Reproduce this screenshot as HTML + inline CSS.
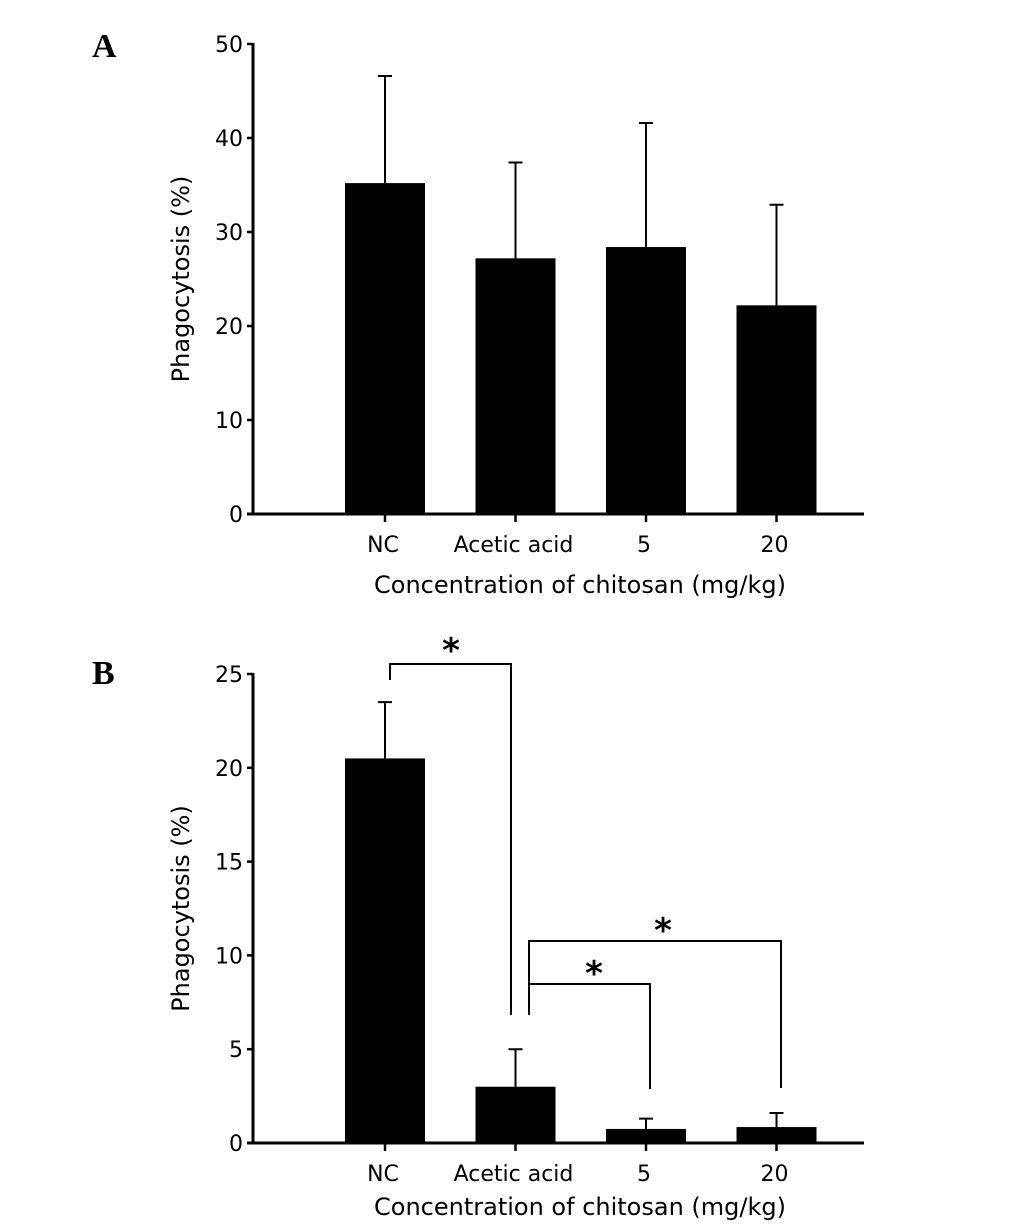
<!DOCTYPE html>
<html><head><meta charset="utf-8"><style>
body{margin:0;background:#fff;width:1033px;height:1229px;overflow:hidden}
svg{display:block}
text{font-family:"DejaVu Sans","Liberation Sans",sans-serif;fill:#000}
</style></head><body>
<svg id="chart" width="1033" height="1229" xmlns="http://www.w3.org/2000/svg">
<text x="92" y="57" style="font-family:'Liberation Serif',serif;font-weight:bold;font-size:34px">A</text>
<text x="92" y="684" style="font-family:'Liberation Serif',serif;font-weight:bold;font-size:34px">B</text>
</svg>
<script>
const categories = ["NC", "Acetic acid", "5", "20"];
const valuesA = [35.2, 27.2, 28.4, 22.2];
const errorsA = [46.6, 37.4, 41.6, 32.9];
const ticksA = [0, 10, 20, 30, 40, 50];
const valuesB = [20.5, 3.0, 0.75, 0.85];
const errorsB = [23.5, 5.0, 1.3, 1.6];
const ticksB = [0, 5, 10, 15, 20, 25];

const svg = document.getElementById('chart');
const NS = "http://www.w3.org/2000/svg";
function mk(tag, attrs, parent){
  const e = document.createElementNS(NS, tag);
  for (const k in attrs) e.setAttribute(k, attrs[k]);
  (parent||svg).appendChild(e);
  return e;
}
const xCenter = i => 385 + i * 130.5;

function panel(id, values, errors, ticks, y0, y1, maxV, titleY){
  const g = mk('g', {});
  
  
  const y = v => y0 - (v / maxV) * (y0 - y1);
  // y axis
  const ya = mk('line', {x1:253, y1:y1-1, x2:253, y2:y0, stroke:'#000', 'stroke-width':3}, g);
  
  
  ticks.forEach(t => {
    mk('line', {x1:247, y1:y(t), x2:253, y2:y(t), stroke:'#000', 'stroke-width':2.5}, g);
    const tl = mk('text', {x:243, y:y(t)+8, 'text-anchor':'end', 'font-size':22}, g);
    tl.textContent = t;
    
    
  });
  // x axis
  const xa = mk('line', {x1:247, y1:y0, x2:864, y2:y0, stroke:'#000', 'stroke-width':3}, g);
  
  
  categories.forEach((c, i) => {
    const cx = xCenter(i);
    mk('line', {x1:cx, y1:y0, x2:cx, y2:y0+8, stroke:'#000', 'stroke-width':2.5}, g);
    // error bar
    const eb = mk('path', {d:`M${cx} ${y(values[i])} V${y(errors[i])} M${cx-7} ${y(errors[i])} H${cx+7}`, stroke:'#000', 'stroke-width':2, fill:'none'}, g);
    
    
    const b = mk('rect', {x:cx-40, y:y(values[i]), width:80, height:y0-y(values[i]), fill:'#000'}, g);
    
    
    const lb = mk('text', {x:cx-2, y:y0+38, 'text-anchor':'middle', 'font-size':22}, g);
    lb.textContent = c;
    
    
  });
  const xt = mk('text', {x:580, y:titleY, 'text-anchor':'middle', 'font-size':24}, g);
  xt.textContent = 'Concentration of chitosan (mg/kg)';
  
  
  const yt = mk('text', {x:0, y:0, 'text-anchor':'middle', 'font-size':24, transform:`translate(189 ${(y0+y1)/2}) rotate(-90)`}, g);
  yt.textContent = 'Phagocytosis (%)';
  
  
}
panel('panel-a', valuesA, errorsA, ticksA, 514, 44, 50, 593);
panel('panel-b', valuesB, errorsB, ticksB, 1143, 674, 25, 1215);

// significance brackets (panel B)
const br = mk('path', {d:'M390 680 V664 H511 V1015 M529 1015 V941 H781 V1088 M529 984 H650 V1089', stroke:'#000', 'stroke-width':2, fill:'none'});


[[451,662],[663,942],[594,985]].forEach(p => {
  const s = mk('text', {x:p[0], y:p[1], 'text-anchor':'middle', 'font-size':34, 'font-weight':'bold'});
  s.textContent = '*';
  
  
});
</script>
</body></html>
